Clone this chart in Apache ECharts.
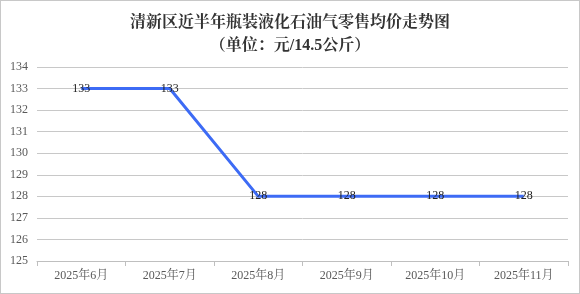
<!DOCTYPE html>
<html><head><meta charset="utf-8">
<script src="https://cdn.jsdelivr.net/npm/echarts@6/dist/echarts.min.js"></script>
<style>html,body{margin:0;padding:0;background:#fff}
#frame{position:absolute;left:0;top:0;width:578px;height:292px;border:1px solid #c8c8c8;}
#c{position:absolute;left:0;top:0;width:580px;height:294px}</style>
</head><body><div id="frame"></div><div id="c"></div>
<script>
const categories = ['2025年6月','2025年7月','2025年8月','2025年9月','2025年10月','2025年11月'];
const prices = [133,133,128,128,128,128];
const titleText = '清新区近半年瓶装液化石油气零售均价走势图';
const subText = '（单位：元/14.5公斤）';
const serif = '"Liberation Serif","DejaVu Serif","Noto Serif CJK SC","Noto Sans CJK SC",serif';
const chart = echarts.init(document.getElementById('c'), null, {renderer:'canvas'});
chart.setOption({
  animation:false,
  title:{text:titleText+'\n'+subText,left:'center',top:6,
    textStyle:{fontFamily:serif,fontSize:16,fontWeight:'bold',color:'#333',lineHeight:23}},
  grid:{left:37,right:12,top:67,bottom:33},
  xAxis:{type:'category',data:categories,boundaryGap:true,
    axisLine:{lineStyle:{color:'#bfbfbf'}},
    axisTick:{show:true,length:5,lineStyle:{color:'#bfbfbf'}},
    axisLabel:{fontFamily:serif,fontSize:12,color:'#595959',margin:9}},
  yAxis:{type:'value',min:125,max:134,interval:1,
    axisLine:{show:false},axisTick:{show:false},
    splitLine:{lineStyle:{color:'#c8c8c8'}},
    axisLabel:{fontFamily:serif,fontSize:12,color:'#595959',margin:9}},
  series:[{type:'line',data:prices,symbol:'circle',symbolSize:1,showSymbol:true,
    itemStyle:{color:'rgba(0,0,0,0)'},
    lineStyle:{color:'#3d6bf5',width:3},
    label:{show:true,position:'inside',fontFamily:serif,fontSize:12,color:'#222'}}]
});
</script></body></html>
